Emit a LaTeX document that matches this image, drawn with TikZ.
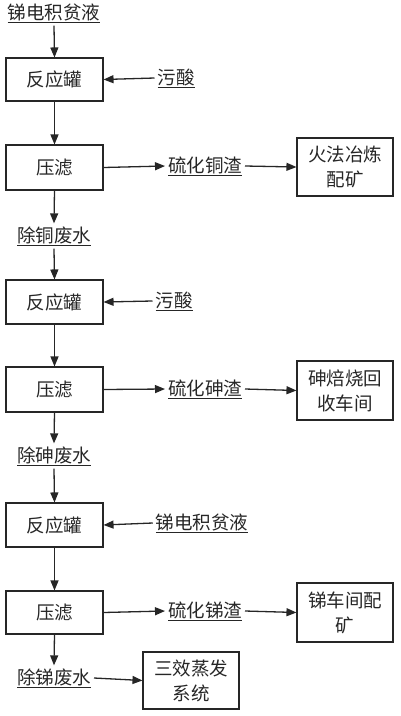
\documentclass[tikz,border=0pt]{standalone}
\usepackage{fontspec}
\newfontfamily\cjk{Noto Sans CJK SC}
\usetikzlibrary{arrows.meta}
\begin{document}
\begin{tikzpicture}[x=1pt,y=-1pt,
  every node/.style={font=\cjk\fontsize{18.5}{25}\selectfont, text=black!85},
  box/.style={draw=black!85, line width=1.1pt, minimum width=97pt, inner sep=0pt, align=center},
  wide/.style={box, minimum width=96pt},
  lbl/.style={inner sep=0pt, outer sep=3pt},
  arr/.style={draw=black!85, line width=1.3pt, -{Triangle[length=10pt,width=8pt]}}
]
\useasboundingbox (0,0) rectangle (400,716);
% column 1
\node[lbl] (t1) at (54,13) {\underline{锑电积贫液}};
\node[box, minimum height=43pt] (b1) at (54.5,79.5) {反应罐};
\node[lbl] (a1) at (176,78) {\underline{污酸}};
\node[box, minimum height=45pt] (b2) at (54.5,167.5) {压滤};
\node[lbl] (s1) at (205,166) {\underline{硫化铜渣}};
\node[wide, minimum height=58pt] (r1) at (345,167) {火法冶炼\\配矿};
\node[lbl] (t2) at (54,236) {\underline{除铜废水}};
\node[box, minimum height=44pt] (b3) at (54.5,302) {反应罐};
\node[lbl] (a2) at (174,301) {\underline{污酸}};
\node[box, minimum height=45pt] (b4) at (54.5,389.5) {压滤};
\node[lbl] (s2) at (205,389) {\underline{硫化砷渣}};
\node[wide, minimum height=59pt] (r2) at (345,390.5) {砷焙烧回\\收车间};
\node[lbl] (t3) at (54,456) {\underline{除砷废水}};
\node[box, minimum height=44pt] (b5) at (54.5,525) {反应罐};
\node[lbl] (a3) at (202,523) {\underline{锑电积贫液}};
\node[box, minimum height=43pt] (b6) at (54.5,612.5) {压滤};
\node[lbl] (s3) at (205,611) {\underline{硫化锑渣}};
\node[wide, minimum height=59pt] (r3) at (345,612.5) {锑车间配\\矿};
\node[lbl] (t4) at (54,678) {\underline{除锑废水}};
\node[wide, minimum height=57pt] (r4) at (191,680.5) {三效蒸发\\系统};
% arrows
\draw[arr] (t1.south) -- (b1.north);
\draw[arr] (a1.west) -- (b1.east);
\draw[arr] (b1) -- (b2);
\draw[arr] (b2.east) -- (s1.west);
\draw[arr] (s1.east) -- (r1.west);
\draw[arr] (b2.south) -- (t2.north);
\draw[arr] (t2.south) -- (b3.north);
\draw[arr] (a2.west) -- (b3.east);
\draw[arr] (b3) -- (b4);
\draw[arr] (b4.east) -- (s2.west);
\draw[arr] (s2.east) -- (r2.west);
\draw[arr] (b4.south) -- (t3.north);
\draw[arr] (t3.south) -- (b5.north);
\draw[arr] (a3.west) -- (b5.east);
\draw[arr] (b5) -- (b6);
\draw[arr] (b6.east) -- (s3.west);
\draw[arr] (s3.east) -- (r3.west);
\draw[arr] (b6.south) -- (t4.north);
\draw[arr] (t4.east) -- (r4.west);
\end{tikzpicture}
\end{document}
